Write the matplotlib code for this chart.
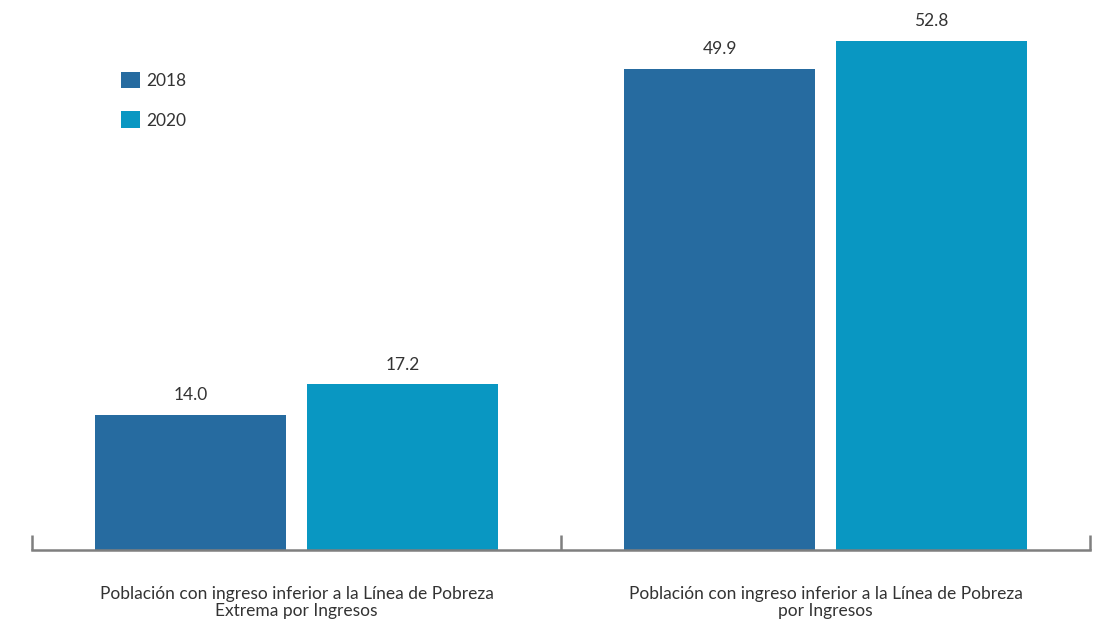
import matplotlib.pyplot as plt
import numpy as np

plt.rcParams['font.family'] = ['Lato', 'DejaVu Sans']

categorias = ['Población con ingreso inferior a la Línea de Pobreza\nExtrema por Ingresos',
              'Población con ingreso inferior a la Línea de Pobreza\npor Ingresos']
anios = ['2018', '2020']
valores_2018 = [14.0, 49.9]
valores_2020 = [17.2, 52.8]
colores = ['#266BA0', '#0997C2']

fig = plt.figure(figsize=(11.04, 6.19), dpi=100)
ax = fig.add_axes([32 / 1104, 69 / 619, 1058 / 1104, 540 / 619])

x = np.arange(len(categorias))
ancho = 0.36
for serie, offset, color, anio in zip([valores_2018, valores_2020], [-0.2, 0.2], colores, anios):
    barras = ax.bar(x + offset, serie, width=ancho, color=color, label=anio)
    for b, v in zip(barras, serie):
        ax.text(b.get_x() + b.get_width() / 2, v + 1.2, f'{v:.1f}',
                ha='center', va='bottom', fontsize=12.5, color='#333333')

ax.set_xlim(-0.5, 1.5)
ax.set_ylim(0, 56)

for s in ['top', 'right', 'left']:
    ax.spines[s].set_visible(False)
ax.spines['bottom'].set_color('#7f7f7f')
ax.spines['bottom'].set_linewidth(1.8)
ax.set_yticks([])

ax.set_xticks(x)
ax.set_xticklabels(categorias, fontsize=12.5, color='#333333', linespacing=1.1)
ax.tick_params(axis='x', which='major', length=0, pad=26)
ax.set_xticks([-0.5, 0.5, 1.5], minor=True)
ax.tick_params(axis='x', which='minor', direction='in', length=11, width=1.8, color='#7f7f7f')

leg = ax.legend(loc='upper left', bbox_to_anchor=(0.069, 0.915), frameon=False,
                fontsize=12.5, handlelength=1.1, handleheight=1.1, labelspacing=1.3,
                handletextpad=0.4)
for t in leg.get_texts():
    t.set_color('#333333')

fig.savefig('out.png', dpi=100)
